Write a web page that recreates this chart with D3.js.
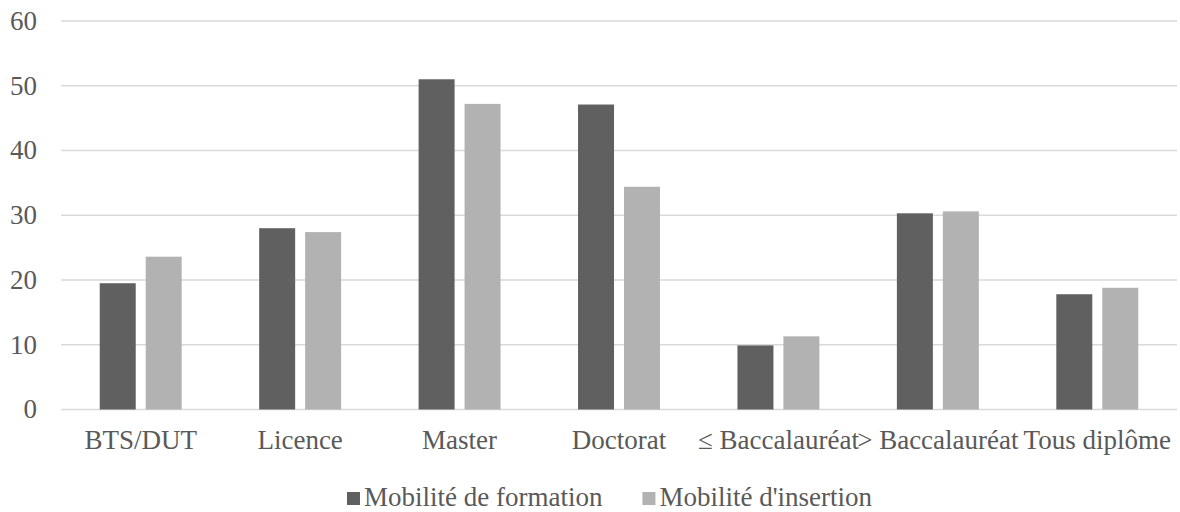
<!DOCTYPE html>
<html>
<head>
<meta charset="utf-8">
<script src="https://d3js.org/d3.v7.min.js"></script>
<style>
  body { margin: 0; background: #fff; }
  text { font-family: "Liberation Serif", "Times New Roman", serif; fill: #595959; }
</style>
</head>
<body>
<svg></svg>
<script>
  // chart values
  const categories = ["BTS/DUT", "Licence", "Master", "Doctorat", "\u2264 Baccalaur\u00e9at", "> Baccalaur\u00e9at", "Tous dipl\u00f4me"];
  const seriesNames = ["Mobilit\u00e9 de formation", "Mobilit\u00e9 d'insertion"];
  const formation = [19.5, 28.0, 51.0, 47.1, 9.9, 30.3, 17.8];
  const insertion = [23.6, 27.4, 47.2, 34.4, 11.3, 30.6, 18.8];
  const yTicks = [0, 10, 20, 30, 40, 50, 60];
  const colors = ["#606060", "#b2b2b2"];

  const width = 1180, height = 512;
  const plotLeft = 61, plotRight = 1177, plotTop = 21, plotBottom = 409.5;

  const svg = d3.select("svg").attr("width", width).attr("height", height);

  const x0 = d3.scaleBand().domain(categories).range([plotLeft, plotRight])
      .paddingInner(0.486).paddingOuter(0.243);
  const x1 = d3.scaleBand().domain(seriesNames).range([0, x0.bandwidth()]).paddingInner(0.217);
  const y = d3.scaleLinear().domain([0, 60]).range([plotBottom, plotTop]);

  // gridlines
  svg.append("g")
      .selectAll("line")
      .data(yTicks)
      .enter().append("line")
      .attr("x1", plotLeft).attr("x2", plotRight)
      .attr("y1", d => y(d)).attr("y2", d => y(d))
      .attr("stroke", "#d9d9d9")
      .attr("stroke-width", 1.5);

  // y labels
  svg.append("g")
      .selectAll("text")
      .data(yTicks)
      .enter().append("text")
      .attr("x", 37)
      .attr("y", d => y(d))
      .attr("dy", "0.33em")
      .attr("text-anchor", "end")
      .style("font-size", "27px")
      .text(d => d);

  // bars
  const rows = categories.map((c, i) => ({cat: c, vals: [formation[i], insertion[i]]}));
  const groups = svg.append("g")
      .selectAll("g")
      .data(rows)
      .enter().append("g")
      .attr("transform", d => "translate(" + x0(d.cat) + ",0)");
  groups.selectAll("rect")
      .data(d => d.vals.map((v, j) => ({name: seriesNames[j], v: v, j: j})))
      .enter().append("rect")
      .attr("x", d => x1(d.name))
      .attr("y", d => y(d.v))
      .attr("width", x1.bandwidth())
      .attr("height", d => y(0) - y(d.v))
      .attr("fill", d => colors[d.j]);

  // x labels
  svg.append("g")
      .selectAll("text")
      .data(categories)
      .enter().append("text")
      .attr("x", d => x0(d) + x0.bandwidth() / 2)
      .attr("y", 449)
      .attr("text-anchor", "middle")
      .style("font-size", "27px")
      .text(d => d);

  // legend
  const legend = svg.append("g").attr("transform", "translate(347,0)");
  let lx = 0;
  seriesNames.forEach((name, i) => {
    legend.append("rect")
        .attr("x", lx).attr("y", 492)
        .attr("width", 13).attr("height", 13)
        .attr("fill", colors[i]);
    const t = legend.append("text")
        .attr("x", lx + 17).attr("y", 506)
        .style("font-size", "27px")
        .text(name);
    lx += 17 + t.node().getComputedTextLength() + 40;
  });
</script>
</body>
</html>
